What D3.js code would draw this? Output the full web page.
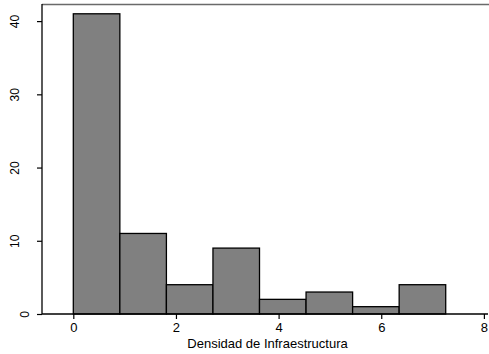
<!DOCTYPE html>
<html>
<head>
<meta charset="utf-8">
<script src="https://cdn.jsdelivr.net/npm/d3@7"></script>
<style>
  html, body { margin: 0; padding: 0; background: #fff; }
  svg { display: block; }
  text { font-family: "Liberation Sans", Arial, Helvetica, sans-serif; fill: #000; }
</style>
</head>
<body>
<div id="chart"></div>
<script>
// Histogram of infrastructure density: bin edges and counts
const binWidth = 0.907;
const binStarts = [0, 1, 2, 3, 4, 5, 6, 7].map(i => i * binWidth);
const counts = [41, 11, 4, 9, 2, 3, 1, 4];
const xTicks = [0, 2, 4, 6, 8];
const yTicks = [0, 10, 20, 30, 40];
const xTitle = "Densidad de Infraestructura";

const W = 489, H = 354;
const margin = { top: 5, right: 1, bottom: 40, left: 42 };

const svg = d3.select("#chart").append("svg")
  .attr("width", W).attr("height", H);

const x = d3.scaleLinear().domain([-0.61, 8.08])
  .range([margin.left, W - margin.right]);
const y = d3.scaleLinear().domain([0, 42.2])
  .range([H - margin.bottom, margin.top]);

// top frame line
svg.append("line")
  .attr("x1", margin.left).attr("x2", W)
  .attr("y1", margin.top - 0.5).attr("y2", margin.top - 0.5)
  .attr("stroke", "#6a6a6a").attr("stroke-width", 1.6);

// bars
svg.append("g").selectAll("rect")
  .data(counts)
  .join("rect")
  .attr("x", (d, i) => x(binStarts[i]))
  .attr("width", (d, i) => x(binStarts[i] + binWidth) - x(binStarts[i]))
  .attr("y", d => y(d))
  .attr("height", d => y(0) - y(d))
  .attr("fill", "#808080")
  .attr("stroke", "#000")
  .attr("stroke-width", 1.3);

// x axis
const xAxis = svg.append("g")
  .attr("transform", `translate(0,${y(0)})`)
  .call(d3.axisBottom(x).tickValues(xTicks).tickSize(5).tickPadding(4).tickFormat(d3.format("d")));
xAxis.select(".domain").attr("d", `M${margin.left},0H${W - 1}`).attr("stroke-width", 1.3);
xAxis.selectAll(".tick line").attr("stroke-width", 1.2);
xAxis.selectAll("text").attr("font-size", 13).style("font-family", '"Liberation Sans", Arial, sans-serif');

// y axis: vertical labels; single-digit labels sit closer to the axis
const yAxis = svg.append("g")
  .attr("transform", `translate(${margin.left},0)`)
  .call(d3.axisLeft(y).tickValues(yTicks).tickSize(5).tickFormat(d3.format("d")));
yAxis.select(".domain").attr("d", `M0,${margin.top - 1}V${y(0)}`).attr("stroke-width", 1.3);
yAxis.selectAll(".tick line").attr("stroke-width", 1.2);
yAxis.selectAll("text")
  .attr("font-size", 12)
  .style("font-family", '"Liberation Sans", Arial, sans-serif')
  .attr("x", null).attr("dy", null)
  .attr("text-anchor", "middle")
  .attr("transform", d => `translate(${String(d).length > 1 ? -26 : -16},0) rotate(-90)`)
  .attr("dominant-baseline", "middle");

// x title
svg.append("text")
  .attr("x", 267.5).attr("y", 348)
  .attr("text-anchor", "middle")
  .attr("font-size", 13)
  .text(xTitle);
</script>
</body>
</html>
